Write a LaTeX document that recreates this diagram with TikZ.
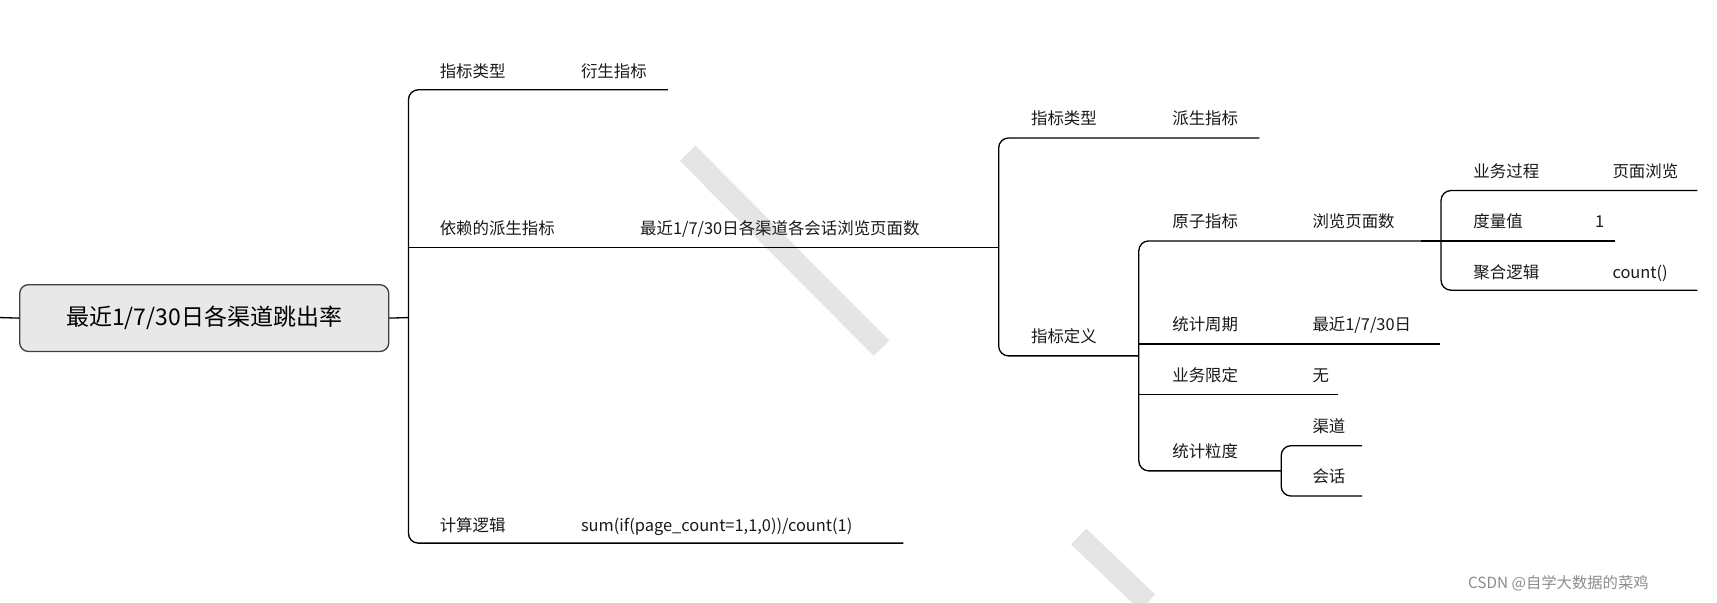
\documentclass[tikz,border=0pt]{standalone}
\usepackage{fontspec}
\setmainfont{Noto Sans CJK SC}
\begin{document}
\begin{tikzpicture}[x=1pt,y=-1pt,line width=1.2pt,
  lab/.style={anchor=base west,inner sep=0pt,font=\fontsize{15}{15}\selectfont,text=black!90}]
\useasboundingbox (0,0) rectangle (1568,550);
% watermark stripes
\draw[black!10,line width=20pt] (628,140) -- (805,318);
\draw[black!10,line width=20pt] (985,490) -- (1048,550);
\node[anchor=base west,inner sep=0pt,text=black!45,font=\fontsize{14}{14}\selectfont] (wm) at (1340,537) {CSDN @自学大数据的菜鸡};
% root
\node[draw=black!75,fill=black!9,rounded corners=8pt,minimum width=337pt,minimum height=61pt,font=\fontsize{21}{21}\selectfont] (root) at (186.5,290.5) {最近1/7/30日各渠道跳出率};
\coordinate (l0) at (0,290);
\draw (l0) -- (root.west);
\coordinate (b1) at (373,290);
\draw (root.east) -- (b1);
% level 1 bracket
\draw[rounded corners=9pt] (610,82) -- (373,82) -- (373,496) -- (825,496);
\draw (373,226) -- (912,226);
\node[lab] (a1) at (401,71) {指标类型}; \node[lab] (a2) at (530,71) {衍生指标};
\node[lab] (a3) at (401,214) {依赖的派生指标}; \node[lab] (a4) at (584,214) {最近1/7/30日各渠道各会话浏览页面数};
\node[lab] (a5) at (401,485) {计算逻辑}; \node[lab] (a6) at (530,485) {sum(if(page\_count=1,1,0))/count(1)};
% level 2
\draw[rounded corners=9pt] (1150,126) -- (912,126) -- (912,325) -- (1040,325);
\node[lab] (b1t) at (941,114) {指标类型}; \node[lab] (b2t) at (1070,114) {派生指标};
\node[lab] (b3t) at (941,313) {指标定义};
% level 3
\draw[rounded corners=9pt] (1298,220) -- (1040,220) -- (1040,430) -- (1170,430);
\draw (1040,314) -- (1315,314);
\draw (1040,360) -- (1222,360);
\node[lab] (c1) at (1070,208) {原子指标}; \node[lab] (c2) at (1198,208) {浏览页面数};
\node[lab] (c3) at (1070,302) {统计周期}; \node[lab] (c4) at (1198,302) {最近1/7/30日};
\node[lab] (c5) at (1070,348) {业务限定}; \node[lab] (c6) at (1198,348) {无};
\node[lab] (c7) at (1070,418) {统计粒度};
% granularity
\draw[rounded corners=9pt] (1244,407) -- (1170,407) -- (1170,453) -- (1244,453);
\node[lab] (d1) at (1198,395) {渠道}; \node[lab] (d2) at (1198,441) {会话};
% level 4
\draw (1298,220) -- (1316,220);
\draw[rounded corners=9pt] (1550,174) -- (1316,174) -- (1316,265) -- (1550,265);
\draw (1316,220) -- (1475,220);
\node[lab] (e1) at (1345,162) {业务过程}; \node[lab] (e2) at (1472,162) {页面浏览};
\node[lab] (e3) at (1345,208) {度量值}; \node[lab] (e4) at (1456,208) {1};
\node[lab] (e5) at (1345,254) {聚合逻辑}; \node[lab] (e6) at (1472,254) {count()};
\end{tikzpicture}
\end{document}
